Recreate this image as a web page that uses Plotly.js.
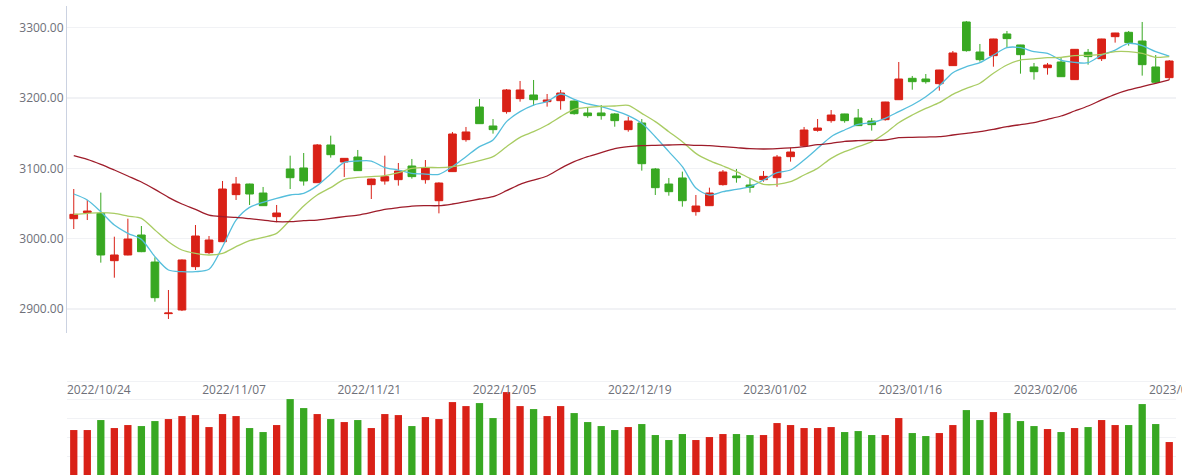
<!DOCTYPE html>
<html><head><meta charset="utf-8">
<script src="https://cdn.plot.ly/plotly-3.0.1.min.js"></script>
<style>html,body{margin:0;padding:0;background:#fff;}#chart{width:1182px;height:475px;}</style>
</head><body><div id="chart"></div>
<script>
const dates = ['2022/10/24','2022/10/25','2022/10/26','2022/10/27','2022/10/28',
'2022/10/31','2022/11/01','2022/11/02','2022/11/03','2022/11/04',
'2022/11/07','2022/11/08','2022/11/09','2022/11/10','2022/11/11',
'2022/11/14','2022/11/15','2022/11/16','2022/11/17','2022/11/18',
'2022/11/21','2022/11/22','2022/11/23','2022/11/24','2022/11/25',
'2022/11/28','2022/11/29','2022/11/30','2022/12/01','2022/12/02',
'2022/12/05','2022/12/06','2022/12/07','2022/12/08','2022/12/09',
'2022/12/12','2022/12/13','2022/12/14','2022/12/15','2022/12/16',
'2022/12/19','2022/12/20','2022/12/21','2022/12/22','2022/12/23',
'2022/12/26','2022/12/27','2022/12/28','2022/12/29','2022/12/30',
'2023/01/02','2023/01/03','2023/01/04','2023/01/05','2023/01/06',
'2023/01/09','2023/01/10','2023/01/11','2023/01/12','2023/01/13',
'2023/01/16','2023/01/17','2023/01/18','2023/01/19','2023/01/20',
'2023/01/30','2023/01/31','2023/02/01','2023/02/02','2023/02/03',
'2023/02/06','2023/02/07','2023/02/08','2023/02/09','2023/02/10',
'2023/02/13','2023/02/14','2023/02/15','2023/02/16','2023/02/17',
'2023/02/20','2023/02/21'];

const open = [3028.4,3037.0,3036.0,2968.7,2976.8,3005.2,2966.8,2893.4,2898.6,2960.2,
2980.1,2995.7,3062.6,3077.7,3064.9,3031.3,3099.1,3100.5,3079.6,3133.2,
3109.0,3116.1,3076.8,3082.0,3083.9,3103.3,3083.9,3054.0,3095.3,3140.8,
3187.2,3160.2,3180.6,3199.1,3204.3,3194.8,3196.2,3195.7,3178.7,3178.7,
3177.3,3155.0,3164.5,3099.1,3077.7,3086.3,3038.4,3046.9,3076.8,3089.1,
3076.3,3083.9,3086.7,3116.6,3132.2,3154.0,3167.8,3177.3,3171.6,3167.3,
3169.2,3197.6,3228.0,3227.0,3220.4,3246.0,3308.1,3265.4,3260.2,3291.0,
3275.4,3244.1,3243.1,3251.2,3226.1,3264.9,3255.9,3287.2,3293.4,3281.0,
3244.1,3228.9];

const close = [3034.6,3039.3,2976.8,2976.8,2999.5,2981.5,2916.1,2894.3,2969.7,3003.8,
2998.1,3070.6,3077.7,3063.5,3046.9,3036.5,3086.7,3082.0,3133.2,3119.4,
3114.2,3096.7,3084.8,3088.2,3096.2,3088.2,3101.0,3079.1,3148.8,3151.7,
3163.5,3155.0,3211.4,3211.4,3197.6,3197.2,3207.1,3177.7,3174.9,3174.9,
3167.8,3167.3,3106.6,3072.5,3066.8,3054.0,3046.4,3064.9,3094.8,3086.7,
3073.0,3088.6,3116.1,3123.2,3154.5,3157.3,3175.8,3167.8,3160.7,3162.1,
3194.3,3227.0,3223.2,3223.2,3239.8,3264.0,3267.3,3254.5,3283.9,3284.4,
3261.6,3237.4,3246.9,3230.3,3269.2,3258.8,3283.9,3292.4,3278.7,3247.4,
3222.3,3252.6];

const high = [3070.6,3055.0,3065.4,3002.8,3028.4,3018.0,2973.5,2927.0,2970.5,3019.4,
3003.8,3082.0,3087.7,3078.2,3073.5,3047.9,3118.0,3121.8,3134.6,3146.4,
3114.6,3126.1,3085.2,3118.0,3107.6,3113.3,3111.8,3080.1,3151.7,3158.8,
3198.6,3170.1,3212.8,3224.2,3225.6,3205.7,3211.4,3196.2,3187.2,3190.0,
3178.5,3173.5,3170.1,3100.5,3086.3,3095.3,3062.1,3072.5,3097.6,3099.1,
3085.8,3096.2,3119.0,3129.4,3158.8,3170.1,3182.9,3177.6,3184.4,3171.6,
3194.6,3251.2,3231.3,3234.1,3240.0,3266.8,3309.5,3276.8,3284.2,3295.3,
3275.6,3249.8,3249.8,3256.9,3269.5,3269.7,3284.2,3292.6,3295.3,3308.1,
3261.1,3254.0];

const low = [3013.7,3026.5,2965.9,2944.5,2976.3,2980.8,2910.4,2885.8,2897.1,2955.5,
2978.2,2995.2,3055.0,3047.9,3046.5,3023.2,3070.6,3075.4,3079.2,3115.2,
3087.7,3096.2,3056.4,3076.8,3075.4,3085.3,3078.2,3036.0,3095.0,3137.9,
3163.2,3149.3,3177.7,3194.8,3189.0,3187.7,3183.4,3176.3,3172.0,3169.2,
3159.2,3152.1,3096.7,3062.1,3061.1,3045.5,3032.7,3046.5,3075.4,3079.6,
3065.4,3081.0,3073.9,3109.5,3130.8,3152.1,3164.9,3164.9,3160.5,3153.6,
3167.8,3197.3,3211.8,3220.4,3210.4,3245.6,3265.9,3251.7,3244.5,3272.0,
3234.6,3226.1,3233.2,3230.0,3225.8,3247.4,3252.6,3278.7,3274.4,3231.8,
3220.4,3225.6];

const ma5 = [3063.5,3055.0,3038.4,3019.4,3007.6,2999.0,2974.4,2955.5,2953.1,2953.1,
2956.4,2988.6,3026.5,3044.5,3051.7,3057.4,3062.1,3064.5,3075.4,3092.0,
3108.5,3110.4,3110.4,3101.0,3097.6,3092.9,3091.9,3091.5,3102.4,3116.6,
3130.8,3140.3,3166.4,3180.6,3190.0,3194.8,3205.7,3198.1,3191.5,3187.7,
3182.0,3174.9,3164.0,3145.0,3123.7,3102.4,3072.0,3062.0,3066.8,3070.1,
3073.9,3083.4,3093.8,3097.6,3111.8,3128.4,3145.0,3154.5,3162.6,3164.9,
3171.1,3180.6,3190.0,3201.9,3217.1,3236.0,3244.5,3250.2,3261.1,3271.6,
3271.6,3265.9,3263.5,3254.0,3250.7,3250.2,3261.1,3268.2,3277.7,3274.4,
3265.9,3259.7];

const ma10 = [3034.6,3036.0,3037.0,3036.0,3032.2,3028.9,3012.3,2995.7,2983.9,2979.1,
2976.8,2979.1,2988.6,2997.2,3001.9,3007.6,3026.5,3046.4,3062.1,3072.5,
3084.4,3087.2,3088.2,3089.6,3093.8,3100.0,3101.4,3101.0,3102.4,3106.2,
3110.9,3116.6,3130.8,3144.1,3152.1,3161.6,3173.5,3183.9,3186.7,3188.2,
3188.6,3189.6,3178.2,3166.4,3152.1,3137.9,3121.3,3110.9,3103.3,3095.3,
3085.8,3077.3,3077.3,3081.0,3090.5,3100.0,3114.2,3123.7,3130.8,3137.9,
3149.8,3164.9,3175.8,3185.3,3193.4,3205.2,3213.7,3220.9,3235.1,3246.9,
3254.0,3255.5,3257.3,3257.8,3260.2,3260.7,3262.1,3265.9,3265.9,3263.5,
3257.8,3258.8];

const ma30 = [3118.0,3112.8,3105.7,3097.6,3089.1,3080.6,3070.1,3058.8,3049.3,3041.7,
3033.6,3031.3,3030.3,3028.4,3026.5,3024.2,3024.2,3025.6,3026.5,3028.9,
3031.3,3033.6,3037.4,3041.7,3044.1,3046.4,3046.9,3046.9,3049.3,3052.6,
3056.4,3059.7,3068.2,3077.3,3083.4,3089.1,3100.0,3109.5,3116.6,3122.3,
3128.0,3130.8,3132.2,3132.7,3133.2,3133.6,3132.7,3132.2,3130.8,3129.4,
3128.0,3127.5,3128.0,3129.0,3130.8,3133.6,3135.5,3138.4,3139.3,3139.8,
3140.3,3143.6,3144.1,3144.5,3145.0,3147.4,3149.8,3152.1,3155.5,3159.2,
3162.1,3164.9,3169.7,3174.4,3181.5,3188.6,3197.2,3205.2,3211.4,3216.1,
3220.9,3225.6];

const volume = [2394,2394,2926,2500,2660,2606,2872,2979,3138,3191,
2553,3245,3138,2500,2287,2660,4043,3564,3245,2979,
2819,2926,2500,3245,3191,2606,3085,2979,3883,3670,
3830,3032,4415,3670,3511,3138,3670,3298,2819,2606,
2394,2553,2713,2128,1862,2181,1862,2021,2181,2181,
2128,2128,2766,2660,2500,2500,2553,2287,2340,2128,
2128,3032,2234,2074,2234,2660,3457,2926,3351,3298,
2872,2606,2447,2287,2500,2553,2926,2660,2660,3777,
2713,1755];

const priceTicks = [2900, 3000, 3100, 3200, 3300];
const labelEvery = 10;

const UP = '#d92117', DOWN = '#38a822';
const idx = dates.map((d, i) => i);
const volColors = close.map((c, i) => c >= open[i] ? UP : DOWN);
const tickIdx = idx.filter(i => i % labelEvery === 0);

const traces = [
  {
    type: 'candlestick', x: idx, open: open, high: high, low: low, close: close,
    xaxis: 'x', yaxis: 'y', whiskerwidth: 0, hoverinfo: 'skip',
    increasing: {line: {color: UP, width: 1}, fillcolor: UP},
    decreasing: {line: {color: DOWN, width: 1}, fillcolor: DOWN},
    showlegend: false
  },
  {type: 'scatter', mode: 'lines', x: idx, y: ma5, xaxis: 'x', yaxis: 'y',
   line: {color: '#55bedc', width: 1.3, shape: 'spline', smoothing: 0.8}, hoverinfo: 'skip', showlegend: false},
  {type: 'scatter', mode: 'lines', x: idx, y: ma10, xaxis: 'x', yaxis: 'y',
   line: {color: '#a9cc63', width: 1.3, shape: 'spline', smoothing: 0.8}, hoverinfo: 'skip', showlegend: false},
  {type: 'scatter', mode: 'lines', x: idx, y: ma30, xaxis: 'x', yaxis: 'y',
   line: {color: '#9e1c2a', width: 1.3, shape: 'spline', smoothing: 0.8}, hoverinfo: 'skip', showlegend: false},
  {type: 'bar', x: idx, y: volume, xaxis: 'x2', yaxis: 'y2', width: 0.54,
   marker: {color: volColors, line: {width: 0}}, hoverinfo: 'skip', showlegend: false}
];

const gridC = '#f1f2f5';
const layout = {
  width: 1182, height: 475,
  margin: {l: 67, r: 6, t: 6, b: 0},
  paper_bgcolor: '#ffffff', plot_bgcolor: '#ffffff',
  font: {family: '"Open Sans", "Noto Sans", sans-serif', size: 12, color: '#6e7079'},
  boxgap: 0.43, boxgroupgap: 0,
  xaxis: {domain: [0, 1], range: [-0.5, 81.5], showgrid: false, zeroline: false,
          showticklabels: false, ticks: '', showline: false, anchor: 'y',
          rangeslider: {visible: false}, fixedrange: true},
  yaxis: {domain: [0.3028, 1], range: [2865.9, 3330.8], tickvals: priceTicks,
          tickformat: '.2f', showgrid: true, gridcolor: gridC, gridwidth: 1.2, zeroline: false,
          showline: true, linecolor: '#cbd2e1', linewidth: 1, ticks: '',
          tickfont: {size: 12, color: '#6e7079'}, anchor: 'x', fixedrange: true},
  xaxis2: {domain: [0, 1], range: [-0.5, 81.5], anchor: 'y2', side: 'top',
           tickmode: 'array', tickvals: tickIdx.map(i => i - 0.5), ticktext: tickIdx.map(i => dates[i]),
           ticklabelposition: 'inside right', ticklabeloverflow: 'allow',
           showgrid: false, zeroline: false, showline: false, ticks: '',
           tickfont: {size: 12, color: '#6e7079'}, fixedrange: true},
  yaxis2: {domain: [0, 0.2026], range: [0, 5060], dtick: 1000, tick0: 0,
           showticklabels: false, showgrid: true, gridcolor: gridC, gridwidth: 1.2,
           zeroline: false, showline: false, ticks: '', anchor: 'x2', fixedrange: true},
  barmode: 'overlay',
  showlegend: false
};

Plotly.newPlot('chart', traces, layout, {displayModeBar: false, staticPlot: true});
</script>
</body></html>
